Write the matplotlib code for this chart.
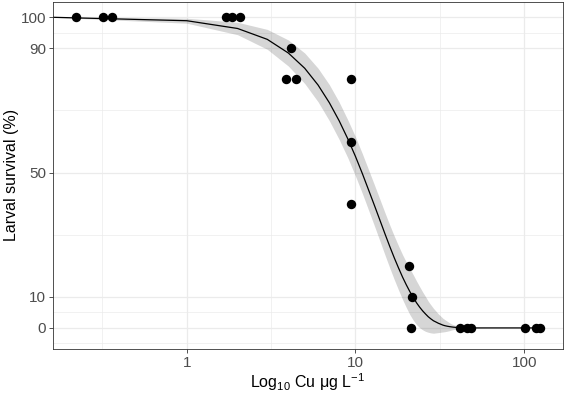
import numpy as np
import matplotlib
matplotlib.use('Agg')
import matplotlib.pyplot as plt

plt.rcParams['font.family'] = ['Liberation Sans', 'DejaVu Sans']
plt.rcParams['mathtext.fontset'] = 'custom'
plt.rcParams['mathtext.rm'] = 'Liberation Sans'
plt.rcParams['mathtext.it'] = 'Liberation Sans:italic'
plt.rcParams['mathtext.default'] = 'regular'

# observed larval survival (%) vs Cu (ug/L)
obs_cu = [0.221, 0.32, 0.36, 1.70, 1.86, 2.06, 4.13, 3.90, 4.42,
          9.47, 9.47, 9.47, 20.8, 21.7, 21.3, 41.5, 46.1, 48.2,
          101.0, 117.8, 123.8]
obs_surv = [100, 100, 100, 100, 100, 100, 90, 80, 80,
            80, 60, 40, 20, 10, 0, 0, 0, 0,
            0, 0, 0]

# fitted dose-response curve with confidence band
fit_cu = [0, 1, 2, 3, 4, 5, 6, 7, 8, 9, 10, 11, 12, 13, 14, 15, 16, 17, 18, 19, 20,
          21, 22, 23, 24, 25, 26, 27, 28, 29, 30, 31, 32, 33, 34, 35, 36, 37, 38, 39, 40,
          45, 50, 60, 80, 100, 125]
fit_surv = [100, 98.9, 96.4, 92.9, 88.5, 83.6, 78.2, 72.5, 66.7, 60.9, 55.2,
            49.6, 44.2, 39.2, 34.5, 30.1, 26.1, 22.5, 19.3, 16.4, 13.9,
            11.7, 9.8, 8.1, 6.7, 5.5, 4.5, 3.6, 2.9, 2.3, 1.9,
            1.5, 1.2, 0.9, 0.7, 0.55, 0.43, 0.33, 0.25, 0.19, 0.14,
            0.03, 0.0, 0.0, 0.0, 0.0, 0.0]
fit_lo = [100, 98.1, 94.4, 89.7, 84.3, 78.7, 72.8, 66.7, 60.7, 54.8, 48.9,
          43.2, 37.7, 32.6, 27.8, 23.3, 19.2, 15.5, 12.2, 9.2, 6.6,
          4.3, 2.5, 1.1, 0.1, -0.6, -1.1, -1.4, -1.6, -1.7, -1.6,
          -1.5, -1.4, -1.3, -1.2, -1.05, -0.9, -0.7, -0.55, -0.45, -0.35,
          -0.1, -0.05, 0.0, 0.0, 0.0, 0.0]
fit_hi = [100, 99.7, 98.4, 96.1, 92.7, 88.5, 83.6, 78.3, 72.7, 67.0, 61.5,
          56.0, 50.7, 45.8, 41.2, 36.9, 33.0, 29.5, 26.4, 23.6, 21.2,
          19.1, 17.1, 15.1, 13.3, 11.6, 10.1, 8.6, 7.4, 6.3, 5.4,
          4.5, 3.8, 3.1, 2.6, 2.15, 1.7, 1.3, 1.05, 0.85, 0.65,
          0.2, 0.05, 0.0, 0.0, 0.0, 0.0]

y_breaks = [0, 10, 50, 90, 100]
x_breaks = [1, 10, 100]
x_labels = ['1', '10', '100']

# ── limits, ggplot-style 5% expansion ─────────────────────────────────────────
lx = np.log10(obs_cu)
span = lx.max() - lx.min()
xlim = (10 ** (lx.min() - 0.05 * span), 10 ** (lx.max() + 0.05 * span))
ymin, ymax = min(fit_lo), max(max(fit_hi), max(obs_surv))
ylim = (ymin - 0.05 * (ymax - ymin), ymax + 0.05 * (ymax - ymin))

# x = 0 lands on the panel edge (log10(0) = -Inf in ggplot)
cx = np.array(fit_cu, dtype=float)
cx[cx == 0] = xlim[0]

fig = plt.figure(figsize=(5.65, 3.96), dpi=100)
ax = fig.add_axes([53 / 565, 47 / 396, 510 / 565, 347.5 / 396])
ax.set_xscale('log')
ax.set_xlim(*xlim)
ax.set_ylim(*ylim)

# grid
for v in x_breaks:
    ax.axvline(v, color='#EBEBEB', lw=0.9, zorder=0)
for e in [-0.5, 0.5, 1.5]:
    ax.axvline(10 ** e, color='#EBEBEB', lw=0.5, zorder=0)
for v in y_breaks:
    ax.axhline(v, color='#EBEBEB', lw=0.9, zorder=0)
for v in [-5, 5, 30, 70, 95]:
    ax.axhline(v, color='#EBEBEB', lw=0.5, zorder=0)

ax.fill_between(cx, fit_lo, fit_hi, color='#333333', alpha=0.2, lw=0, zorder=1)
ax.plot(cx, fit_surv, color='black', lw=0.9, zorder=2)
ax.scatter(obs_cu, obs_surv, s=46, color='black', lw=0, zorder=3)

ax.set_xticks(x_breaks)
ax.set_xticklabels(x_labels)
ax.xaxis.set_minor_locator(matplotlib.ticker.NullLocator())
ax.set_yticks(y_breaks)
ax.tick_params(axis='both', length=3, width=0.6, color='#333333',
               labelsize=11, labelcolor='#4D4D4D', pad=2)
for s in ax.spines.values():
    s.set_color('#333333')
    s.set_linewidth(0.6)

ax.set_xlabel(r'Log$_{10}$ Cu μg L$^{-1}$', fontsize=11.5, labelpad=1)
ax.set_ylabel('Larval survival (%)', fontsize=11.5, labelpad=1)

fig.savefig('out.png', dpi=100)
